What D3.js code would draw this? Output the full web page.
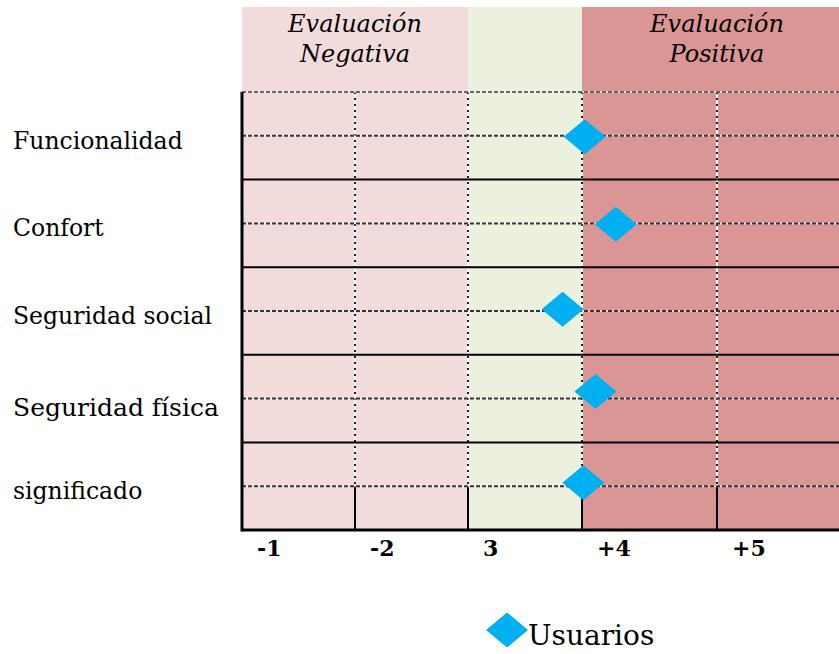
<!DOCTYPE html>
<html>
<head>
<meta charset="utf-8">
<script src="https://cdn.jsdelivr.net/npm/d3@7"></script>
<style>
    body { margin: 0; background: #fff; }
    text { font-family: "DejaVu Serif", serif; }
</style>
</head>
<body>
<div id="grafico"></div>
<script>
// datos
const categories = ["Funcionalidad", "Confort", "Seguridad social", "Seguridad física", "significado"];
const tickLabels = ["-1", "-2", "3", "+4", "+5"];
// posición de cada usuario en unidades de columna (0..5) y de fila (0..5)
const usuariosX = [3.02, 3.25, 2.83, 3.10, 3.01];
const usuariosY = [0.51, 1.51, 2.48, 3.42, 4.46];
const seriesName = "Usuarios";
const zones = [
    { from: 0, to: 2, label: ["Evaluación", "Negativa"], color: "#f2dcdb" },
    { from: 2, to: 3, label: [], color: "#ebf1de" },
    { from: 3, to: 5, label: ["Evaluación", "Positiva"], color: "#d99694" }
];

const width = 839;
const height = 654;
const gridTop = 92, gridBottom = 530, headerTop = 7;

const svg = d3.select('#grafico')
    .append('svg')
    .attr('width', width)
    .attr('height', height);

// escala x por columnas (las dos últimas son más anchas)
const xScale = d3.scaleLinear()
    .domain([0, 1, 2, 3, 4, 5])
    .range([242, 355, 468, 582, 717, 852]);

const yScale = d3.scaleLinear()
    .domain([0, categories.length])
    .range([gridTop, gridBottom]);

// fondos
svg.selectAll('rect.zone')
    .data(zones)
    .enter()
    .append('rect')
    .attr('class', 'zone')
    .attr('x', d => xScale(d.from))
    .attr('y', headerTop)
    .attr('width', d => xScale(d.to) - xScale(d.from))
    .attr('height', gridBottom - headerTop)
    .attr('fill', d => d.color);

// títulos de zona
zones.forEach(z => {
    const cx = (xScale(z.from) + xScale(z.to)) / 2;
    z.label.forEach((t, i) => {
        svg.append('text')
            .attr('x', cx)
            .attr('y', 32 + i * 30)
            .attr('text-anchor', 'middle')
            .attr('font-style', 'italic')
            .attr('font-size', 24)
            .text(t);
    });
});

const cols = d3.range(1, 5);
const rows = d3.range(0, categories.length);
const lastMid = yScale(categories.length - 0.5);

// líneas verticales punteadas (parte superior) y sólidas (parte inferior)
cols.forEach(c => {
    const x = xScale(c);
    svg.append('line')
        .attr('x1', x).attr('x2', x)
        .attr('y1', gridTop).attr('y2', lastMid)
        .attr('stroke', '#fff').attr('stroke-width', 2);
    svg.append('line')
        .attr('x1', x).attr('x2', x)
        .attr('y1', gridTop).attr('y2', lastMid)
        .attr('stroke', '#222').attr('stroke-width', 2)
        .attr('stroke-dasharray', '2,4');
    svg.append('line')
        .attr('x1', x).attr('x2', x)
        .attr('y1', lastMid).attr('y2', gridBottom)
        .attr('stroke', '#000').attr('stroke-width', 2);
});

// líneas horizontales discontinuas (centro de cada fila y borde superior)
const hDash = [0].concat(rows.map(i => i + 0.5));
hDash.forEach(v => {
    const y = yScale(v);
    svg.append('line')
        .attr('x1', xScale(0)).attr('x2', width)
        .attr('y1', y).attr('y2', y)
        .attr('stroke', '#fff').attr('stroke-opacity', 0.6).attr('stroke-width', 2);
    svg.append('line')
        .attr('x1', xScale(0)).attr('x2', width)
        .attr('y1', y).attr('y2', y)
        .attr('stroke', v === 0 ? '#666' : '#333').attr('stroke-width', 2)
        .attr('stroke-dasharray', '4,2');
});

// líneas sólidas entre categorías
d3.range(1, categories.length + 1).forEach(v => {
    const y = yScale(v);
    svg.append('line')
        .attr('x1', xScale(0)).attr('x2', width)
        .attr('y1', y).attr('y2', y)
        .attr('stroke', '#000').attr('stroke-width', v === categories.length ? 3 : 2);
});

// eje izquierdo
svg.append('line')
    .attr('x1', xScale(0)).attr('x2', xScale(0))
    .attr('y1', gridTop).attr('y2', gridBottom + 1.5)
    .attr('stroke', '#000').attr('stroke-width', 3);

// etiquetas de categorías
svg.selectAll('text.cat')
    .data(categories)
    .enter()
    .append('text')
    .attr('class', 'cat')
    .attr('x', 13)
    .attr('y', (d, i) => yScale(i + 0.5) + (i === 3 ? 17 : 13))
    .attr('font-size', (d, i) => i === 3 ? 25 : 23.5)
    .text(d => d);

// etiquetas del eje x
svg.selectAll('text.tick')
    .data(tickLabels)
    .enter()
    .append('text')
    .attr('class', 'tick')
    .attr('x', (d, i) => xScale(i) + 15)
    .attr('y', 556)
    .attr('font-size', 22)
    .attr('font-weight', 'bold')
    .text(d => d);

// rombos
const diamond = (cx, cy) => `M${cx - 21},${cy}L${cx},${cy - 17.5}L${cx + 21},${cy}L${cx},${cy + 17.5}Z`;

svg.selectAll('path.dot')
    .data(usuariosX)
    .enter()
    .append('path')
    .attr('class', 'dot')
    .attr('d', (d, i) => diamond(xScale(d), yScale(usuariosY[i])))
    .attr('fill', '#00b0f0');

// leyenda
svg.append('path')
    .attr('d', diamond(507, 630))
    .attr('fill', '#00b0f0');
svg.append('text')
    .attr('x', 528)
    .attr('y', 645)
    .attr('font-size', 28)
    .text(seriesName);
</script>
</body>
</html>
